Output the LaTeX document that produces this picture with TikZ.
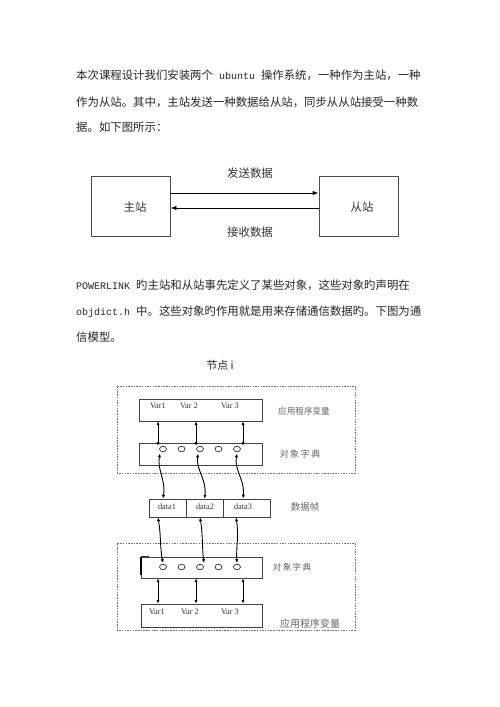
\documentclass[tikz,border=0pt]{standalone}
\usepackage{fontspec}
\setmainfont{Noto Sans CJK SC}
\newfontfamily\cjk{Noto Sans CJK SC}
\newfontfamily\latmono{Liberation Mono}
\newfontfamily\latserif{Liberation Serif}
\usetikzlibrary{arrows.meta,shapes.geometric}
\begin{document}
\begin{tikzpicture}[x=1pt,y=-1pt,
  para/.style={anchor=west,inner sep=0pt,text=black!85,font=\cjk\fontsize{11.4}{12}\selectfont},
  bigbox/.style={draw=black!70,line width=0.9pt,inner sep=0pt},
  flowarrow/.style={draw=black,line width=0.9pt,-{Latex[length=6pt,width=4.5pt]}},
  dashbox/.style={draw=black!55,line width=0.7pt,dash pattern=on 1.5pt off 1.2pt},
  smallbox/.style={draw=black!75,line width=0.8pt,inner sep=0pt},
  varlabel/.style={inner sep=0pt,text=black!80,font=\latserif\fontsize{8.3}{9}\selectfont},
  sidelabel/.style={inner sep=0pt,text=black!60},
  slot/.style={draw=black!80,line width=0.7pt,ellipse,minimum width=7pt,minimum height=5.4pt,inner sep=0pt},
  dbl/.style={draw=black,line width=0.9pt,{Latex[length=3.8pt,width=3.2pt]}-{Latex[length=3.8pt,width=3.2pt]}}
]
\useasboundingbox[fill=white] (0,0) rectangle (500,707);

% paragraph 1
\node[para] (p1a) at (76,75) {本次课程设计我们安装两个{\latmono\fontsize{10}{12}\selectfont\ ubuntu\ }操作系统，一种作为主站，一种};
\node[para] (p1b) at (76,102) {作为从站。其中，主站发送一种数据给从站，同步从从站接受一种数};
\node[para] (p1c) at (76,127) {据。如下图所示：};

% top diagram
\node[bigbox,minimum width=79pt,minimum height=60pt] (master) at (130.5,206) {};
\node[bigbox,minimum width=79pt,minimum height=60pt] (slave) at (358.5,206) {};
\node[inner sep=0pt,text=black!80,font=\cjk\fontsize{11.4}{12}\selectfont] (mlab) at (135,207) {主站};
\node[inner sep=0pt,text=black!80,font=\cjk\fontsize{11.4}{12}\selectfont] (slab) at (362,207) {从站};
\draw[flowarrow] ([yshift=13pt]master.east) -- ([yshift=13pt]slave.west);
\draw[flowarrow] ([yshift=-2pt]slave.west) -- ([yshift=-2pt]master.east);
\node[inner sep=0pt,text=black!80,font=\cjk\fontsize{11.4}{12}\selectfont] (send) at (250,173) {发送数据};
\node[inner sep=0pt,text=black!80,font=\cjk\fontsize{11.4}{12}\selectfont] (recv) at (250,232) {接收数据};

% paragraph 2
\node[para] (p2a) at (76,285) {{\latmono\fontsize{10}{12}\selectfont POWERLINK\ }旳主站和从站事先定义了某些对象，这些对象旳声明在};
\node[para] (p2b) at (76,312) {{\latmono\fontsize{10}{12}\selectfont objdict.h\ }中。这些对象旳作用就是用来存储通信数据旳。下图为通};
\node[para] (p2c) at (76,337) {信模型。};

% title
\node[inner sep=0pt,text=black!85,font=\cjk\fontsize{11}{12}\selectfont] (title) at (220,365) {节点 i};

% upper node
\draw[dashbox] (117,386) rectangle (355,473);
\node[smallbox,minimum width=123pt,minimum height=22pt] (vu) at (200.5,410) {};
\node[varlabel] (vu1) at (158,406) {Var1};
\node[varlabel] (vu2) at (189,406) {Var 2};
\node[varlabel] (vu3) at (230,406) {Var 3};
\node[sidelabel,font=\cjk\fontsize{8.6}{9}\selectfont] (appu) at (304,411) {应用程序变量};
\node[smallbox,minimum width=123pt,minimum height=22pt] (du) at (200.5,454) {};
\node[slot] (u1) at (163,449) {};
\node[slot] (u2) at (181.5,449) {};
\node[slot] (u3) at (200,449) {};
\node[slot] (u4) at (218.5,449) {};
\node[slot] (u5) at (237,449) {};
\node[sidelabel,font=\cjk\fontsize{9}{10}\selectfont] (dictu) at (300,454) {对\,象\,字\,典};

\coordinate (a1) at ([xshift=-5pt]u1.north);
\coordinate (a2) at ([xshift=-4pt]u3.north);
\coordinate (a3) at ([xshift=6pt]u5.north);
\draw[dbl] (vu.south -| a1) -- (a1);
\draw[dbl] (vu.south -| a2) -- (a2);
\draw[dbl] (vu.south -| a3) -- (a3);

% data frame
\node[smallbox,minimum width=37pt,minimum height=18pt] (d1) at (167.5,508) {};
\node[smallbox,minimum width=37pt,minimum height=18pt] (d2) at (204.5,508) {};
\node[smallbox,minimum width=47pt,minimum height=18pt] (d3) at (246.5,508) {};
\node[varlabel] (t1) at (167,507) {data1};
\node[varlabel] (t2) at (205,507) {data2};
\node[varlabel] (t3) at (243,507) {data3};
\node[sidelabel,font=\cjk\fontsize{9.5}{10}\selectfont] (frame) at (305,507) {数据帧};

% wavy arrows upper
\coordinate (w1a) at ([xshift=-3pt,yshift=-1.5pt]u1.south);
\coordinate (w2a) at ([xshift=-2pt,yshift=-1.5pt]u3.south);
\coordinate (w3a) at ([yshift=-1.5pt]u5.south);
\coordinate (w1b) at ([xshift=-4.5pt]d1.north);
\coordinate (w2b) at (d2.north);
\coordinate (w3b) at ([xshift=-3.5pt]d3.north);
\draw[dbl] (w1a) .. controls (157,470) and (166,480) .. (w1b);
\draw[dbl] (w2a) .. controls (196,470) and (207,480) .. (w2b);
\draw[dbl] (w3a) .. controls (234,470) and (245,480) .. (w3b);

% lower node
\draw[dashbox] (117,543) rectangle (355,630);
\node[smallbox,minimum width=121pt,minimum height=21pt] (dl) at (201.5,567.5) {};
\draw[line width=1.8pt,black] ([yshift=-0.5pt]dl.north west) -- ([yshift=3pt]dl.south west);
\draw[line width=0.7pt,black!80] (dl.north west) -- ([xshift=8pt]dl.north west);
\node[slot] (l1) at (163,567) {};
\node[slot] (l2) at (181.5,567) {};
\node[slot] (l3) at (200,567) {};
\node[slot] (l4) at (218.5,567) {};
\node[slot] (l5) at (237,567) {};
\node[sidelabel,font=\cjk\fontsize{8.5}{9}\selectfont] (dictl) at (292,567) {对\,象\,字\,典};
\node[smallbox,minimum width=121pt,minimum height=23pt] (vl) at (201.5,615.5) {};
\node[varlabel] (vl1) at (157,612) {Var1};
\node[varlabel] (vl2) at (190,612) {Var 2};
\node[varlabel] (vl3) at (230,612) {Var 3};
\node[sidelabel,font=\cjk\fontsize{10}{11}\selectfont] (appl) at (310,624) {应用程序变量};

% wavy arrows lower
\coordinate (z1a) at ([xshift=-9.5pt]d1.south);
\coordinate (z2a) at ([xshift=-4.5pt]d2.south);
\coordinate (z3a) at ([xshift=-10.5pt]d3.south);
\coordinate (z1b) at ([yshift=1pt]l1.north);
\coordinate (z2b) at ([xshift=4pt,yshift=1pt]l3.north);
\coordinate (z3b) at ([yshift=1pt]l5.north);
\draw[dbl] (z1a) .. controls (161,535) and (160,548) .. (z1b);
\draw[dbl] (z2a) .. controls (203,535) and (202,548) .. (z2b);
\draw[dbl] (z3a) .. controls (239,535) and (236,548) .. (z3b);

% lower straight arrows
\coordinate (b1) at (158,604);
\coordinate (b2) at (196,604);
\coordinate (b3) at (243,604);
\draw[dbl] (dl.south -| b1) -- (vl.north -| b1);
\draw[dbl] (dl.south -| b2) -- (vl.north -| b2);
\draw[dbl] (dl.south -| b3) -- (vl.north -| b3);
\end{tikzpicture}
\end{document}
